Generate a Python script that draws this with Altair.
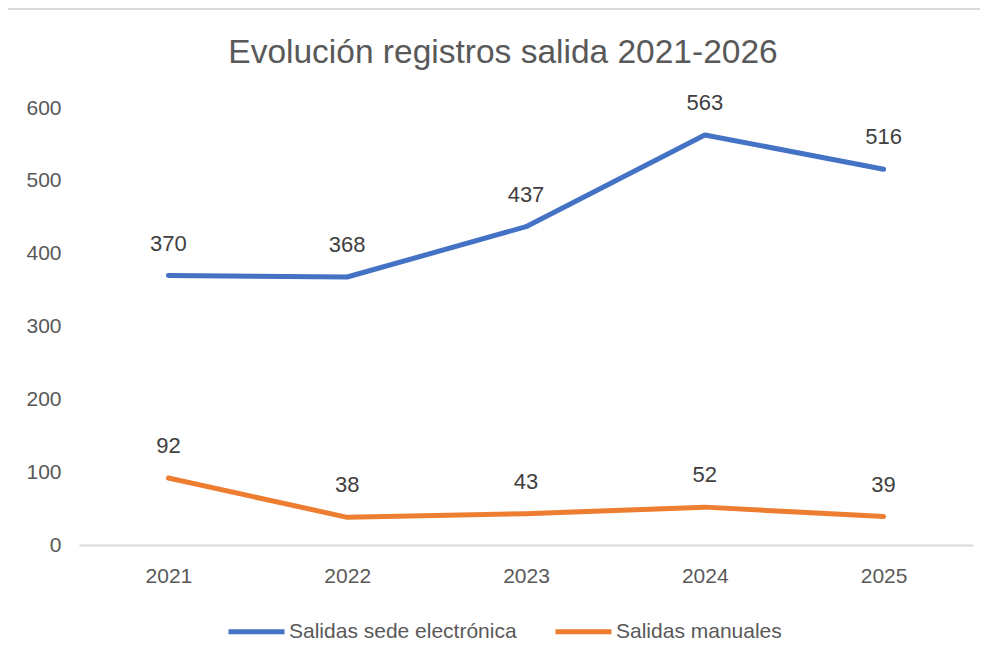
import altair as alt
import pandas as pd

years = ["2021", "2022", "2023", "2024", "2025"]
sede = [370, 368, 437, 563, 516]
manuales = [92, 38, 43, 52, 39]
series = ["Salidas sede electrónica", "Salidas manuales"]
colors = ["#4472C4", "#ED7D31"]
y_ticks = [0, 100, 200, 300, 400, 500, 600]
title_text = "Evolución registros salida 2021-2026"

rows = []
for y, v in zip(years, sede):
    rows.append({"year": y, "value": v, "serie": series[0]})
for y, v in zip(years, manuales):
    rows.append({"year": y, "value": v, "serie": series[1]})
df = pd.DataFrame(rows)

FONT = "Liberation Sans"
GRAY = "#595959"

base = alt.Chart(df).encode(
    x=alt.X("year:O", title=None,
            axis=alt.Axis(labelAngle=0, ticks=False, tickSize=0, domain=True,
                          domainColor="#D9D9D9", domainWidth=2, grid=False,
                          labelFontSize=21, labelColor=GRAY, labelFont=FONT,
                          labelPadding=20)),
    y=alt.Y("value:Q", title=None,
            scale=alt.Scale(domain=[0, 600], nice=False),
            axis=alt.Axis(values=y_ticks, ticks=False, tickSize=0, domain=False,
                          grid=False, labelFontSize=21, labelColor=GRAY,
                          labelFont=FONT, labelPadding=18)),
)

lines = base.mark_line(strokeWidth=5, strokeCap="round", strokeJoin="round").encode(
    color=alt.Color("serie:N", scale=alt.Scale(domain=series, range=colors),
                    legend=alt.Legend(title=None, orient="none", direction="horizontal",
                                      legendX=147, legendY=493, symbolType="stroke",
                                      symbolStrokeWidth=5, symbolSize=3136,
                                      labelFontSize=21, labelColor=GRAY, labelFont=FONT,
                                      labelLimit=500, labelOffset=2, columnPadding=28,
                                      padding=0))
)

labels = base.mark_text(dy=-32, fontSize=22, color="#404040", font=FONT,
                        baseline="middle").encode(
    text=alt.Text("value:Q"),
    detail="serie:N",
)

title = alt.Chart(alt.Data(values=[{"t": title_text}])).mark_text(
    fontSize=33.5, color=GRAY, font=FONT, baseline="middle", align="center"
).encode(x=alt.value(424), y=alt.value(-55), text="t:N")

border = alt.Chart(alt.Data(values=[{"k": 1}])).mark_rect(
    fill="transparent", stroke="#D9D9D9", strokeWidth=2
).encode(x=alt.value(-74), x2=alt.value(920), y=alt.value(-99), y2=alt.value(570))

chart = alt.layer(border, lines, labels, title).properties(
    width=894, height=437,
    padding={"left": 71, "top": 100, "right": 7, "bottom": 109},
    autosize=alt.AutoSizeParams(type="none"),
    background="white",
).configure_view(stroke=None)

chart.save("out.html", embed_options={"renderer": "svg", "actions": False})
